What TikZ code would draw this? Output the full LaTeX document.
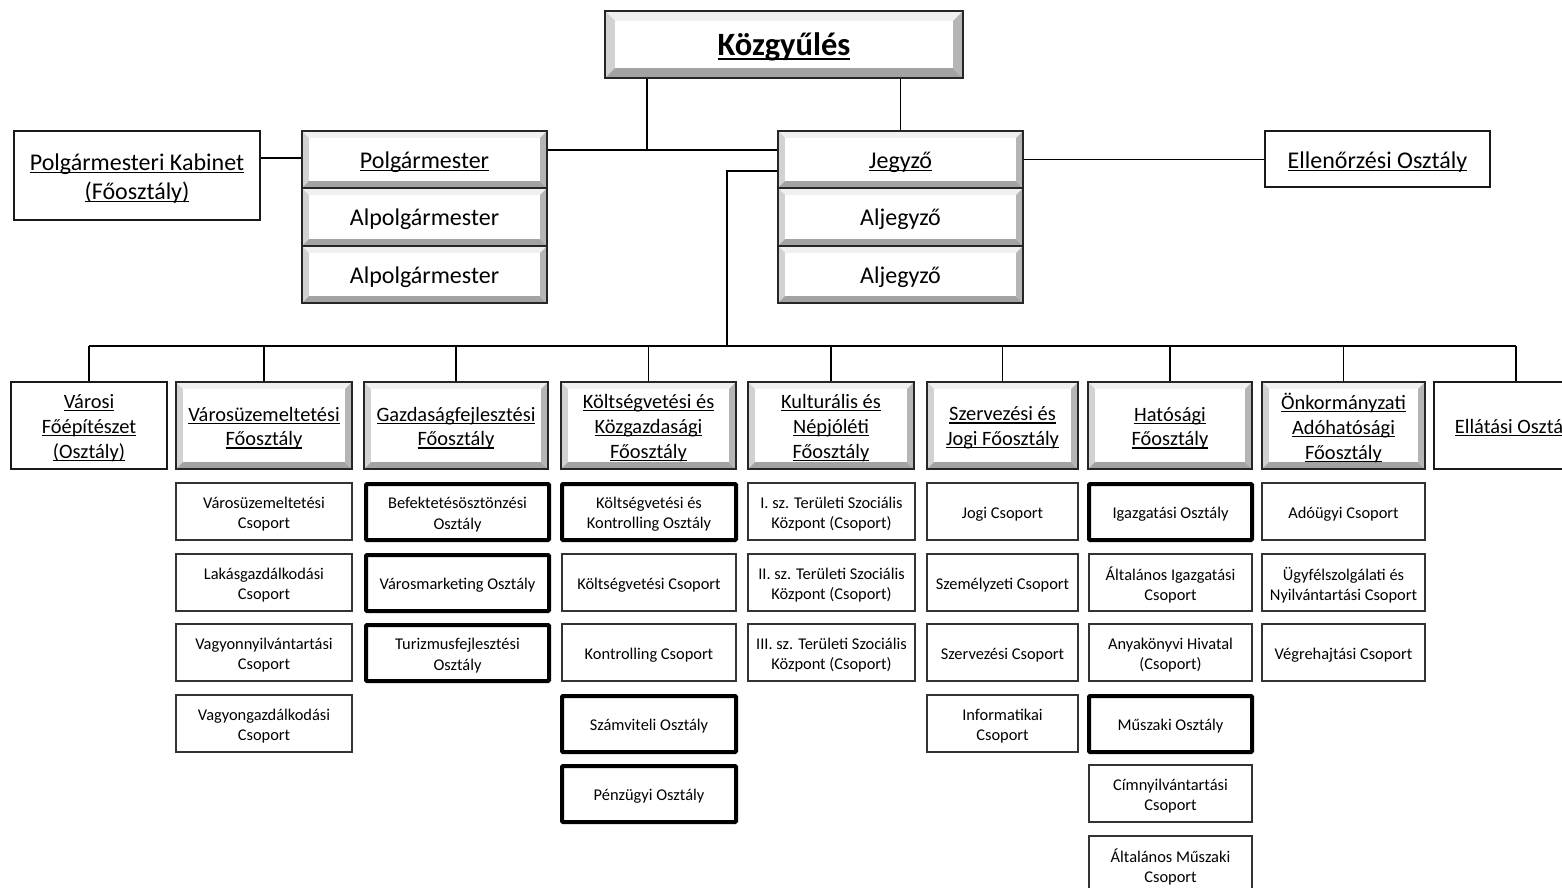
\documentclass[tikz,border=0pt]{standalone}
\usepackage{fontspec}
\setmainfont{Carlito}
\newcommand\ulx[1]{\begingroup\setbox0\hbox{#1}\rlap{\rule[-0.13em]{\wd0}{0.06em}}\box0\endgroup}
\def\bvw{7pt}
% name, box style, font style, x1, y1, x2, y2, text
\newcommand\orgbox[8]{%
  \pgfmathsetmacro\obw{#6-#4}\pgfmathsetmacro\obh{#7-#5}%
  \pgfmathsetmacro\obx{(#4+#6)/2}\pgfmathsetmacro\oby{(#5+#7)/2}%
  \node[#2, minimum width=\obw pt, minimum height=\obh pt] (#1) at (\obx,\oby) {};
  \node[txt, #3] (#1-t) at ([yshift=-2.6pt]#1.center) {#8};}
\tikzset{
  bvw/.store in=\bvw,
  base/.style={inner sep=0pt},
  txt/.style={inner sep=0pt, align=center, text=black},
  bevelbox/.style={base, draw=black!85, line width=1.6pt, fill=white,
    path picture={
      \coordinate (bvA) at (path picture bounding box.south west);
      \coordinate (bvB) at (path picture bounding box.north east);
      \coordinate (bva) at ([xshift=\bvw,yshift=\bvw]path picture bounding box.south west);
      \coordinate (bvb) at ([xshift=-\bvw,yshift=-\bvw]path picture bounding box.north east);
      \fill[gray!12] (bvB -| bvA) -- (bvB) -- (bvb) -- (bvb -| bva) -- cycle;
      \fill[gray!35] (bvB -| bvA) -- (bvA) -- (bva) -- (bvb -| bva) -- cycle;
      \fill[gray!72] (bvA) -- (bvA -| bvB) -- (bva -| bvb) -- (bva) -- cycle;
      \fill[gray!58] (bvB) -- (bvA -| bvB) -- (bva -| bvb) -- (bvb) -- cycle;
      \fill[white] (bva) rectangle (bvb);
    }},
  plainbox/.style={base, draw=black!90, line width=2.6pt, fill=white},
  thinbox/.style={base, draw=black!80, line width=1.1pt, fill=white},
  thickbox/.style={base, draw=black, line width=4pt, fill=white, rounded corners=1pt},
  topfont/.style={font=\fontsize{24}{29}\selectfont},
  hdrfont/.style={font=\fontsize{20.4}{24.8}\selectfont},
  subfont/.style={font=\fontsize{16.4}{20.2}\selectfont},
  bigfont/.style={font=\fontsize{32.5}{36}\selectfont\bfseries},
  conn/.style={draw=black, line width=1.5pt},
}
\begin{document}
\begin{tikzpicture}[x=1pt,y=-1pt]
\useasboundingbox (0,0) rectangle (1562,887);
% top level
\orgbox{kozgy}{bevelbox,bvw=10pt}{bigfont}{605}{11}{963}{78}{\ulx{Közgyűlés}}
\orgbox{kab}{plainbox}{topfont}{14}{131}{260}{220}{\ulx{Polgármesteri Kabinet}\\\ulx{(Főosztály)}}
\orgbox{polg}{bevelbox}{topfont}{302}{131}{547}{188}{\ulx{Polgármester}}
\orgbox{alp1}{bevelbox}{topfont}{302}{188}{547}{246}{Alpolgármester}
\orgbox{alp2}{bevelbox}{topfont}{302}{246}{547}{303}{Alpolgármester}
\orgbox{jeg}{bevelbox}{topfont}{778}{131}{1023}{188}{\ulx{Jegyző}}
\orgbox{alj1}{bevelbox}{topfont}{778}{188}{1023}{246}{Aljegyző}
\orgbox{alj2}{bevelbox}{topfont}{778}{246}{1023}{303}{Aljegyző}
\orgbox{ell}{plainbox}{topfont}{1265}{131}{1490}{187}{\ulx{Ellenőrzési Osztály}}
% headers
\orgbox{h1}{plainbox}{hdrfont}{11}{382}{167}{469}{\ulx{Városi}\\\ulx{Főépítészet}\\\ulx{(Osztály)}}
\orgbox{h2}{bevelbox}{hdrfont}{176}{382}{352}{469}{\ulx{Városüzemeltetési}\\\ulx{Főosztály}}
\orgbox{h3}{bevelbox}{hdrfont}{364}{382}{548}{469}{\ulx{Gazdaságfejlesztési}\\\ulx{Főosztály}}
\orgbox{h4}{bevelbox}{hdrfont}{561}{382}{736}{469}{\ulx{Költségvetési és}\\\ulx{Közgazdasági}\\\ulx{Főosztály}}
\orgbox{h5}{bevelbox}{hdrfont}{748}{382}{914}{469}{\ulx{Kulturális és}\\\ulx{Népjóléti}\\\ulx{Főosztály}}
\orgbox{h6}{bevelbox}{hdrfont}{927}{382}{1078}{469}{\ulx{Szervezési és}\\\ulx{Jogi Főosztály}}
\orgbox{h7}{bevelbox}{hdrfont}{1088}{382}{1252}{469}{\ulx{Hatósági}\\\ulx{Főosztály}}
\orgbox{h8}{bevelbox}{hdrfont}{1262}{382}{1425}{469}{\ulx{Önkormányzati}\\\ulx{Adóhatósági}\\\ulx{Főosztály}}
\orgbox{h9}{plainbox}{hdrfont}{1434}{382}{1598}{469}{\ulx{Ellátási Osztály}}
% column 2
\orgbox{c2a}{thinbox}{subfont}{176}{483}{352}{540}{Városüzemeltetési\\Csoport}
\orgbox{c2b}{thinbox}{subfont}{176}{554}{352}{611}{Lakásgazdálkodási\\Csoport}
\orgbox{c2c}{thinbox}{subfont}{176}{624}{352}{681}{Vagyonnyilvántartási\\Csoport}
\orgbox{c2d}{thinbox}{subfont}{176}{695}{352}{752}{Vagyongazdálkodási\\Csoport}
% column 3
\orgbox{c3a}{thickbox}{subfont}{366}{484}{549}{540}{Befektetésösztönzési\\Osztály}
\orgbox{c3b}{thickbox}{subfont}{366}{555}{549}{611}{Városmarketing Osztály}
\orgbox{c3c}{thickbox}{subfont}{366}{625}{549}{681}{Turizmusfejlesztési\\Osztály}
% column 4
\orgbox{c4a}{thickbox}{subfont}{562}{484}{736}{540}{Költségvetési és\\Kontrolling Osztály}
\orgbox{c4b}{thinbox}{subfont}{562}{554}{736}{611}{Költségvetési Csoport}
\orgbox{c4c}{thinbox}{subfont}{562}{624}{736}{681}{Kontrolling Csoport}
\orgbox{c4d}{thickbox}{subfont}{562}{696}{736}{752}{Számviteli Osztály}
\orgbox{c4e}{thickbox}{subfont}{562}{766}{736}{822}{Pénzügyi Osztály}
% column 5
\orgbox{c5a}{thinbox}{subfont}{748}{483}{915}{540}{I. sz. Területi Szociális\\Központ (Csoport)}
\orgbox{c5b}{thinbox}{subfont}{748}{554}{915}{611}{II. sz. Területi Szociális\\Központ (Csoport)}
\orgbox{c5c}{thinbox}{subfont}{748}{624}{915}{681}{III. sz. Területi Szociális\\Központ (Csoport)}
% column 6
\orgbox{c6a}{thinbox}{subfont}{927}{483}{1078}{540}{Jogi Csoport}
\orgbox{c6b}{thinbox}{subfont}{927}{554}{1078}{611}{Személyzeti Csoport}
\orgbox{c6c}{thinbox}{subfont}{927}{624}{1078}{681}{Szervezési Csoport}
\orgbox{c6d}{thinbox}{subfont}{927}{695}{1078}{752}{Informatikai\\Csoport}
% column 7
\orgbox{c7a}{thickbox}{subfont}{1089}{484}{1252}{540}{Igazgatási Osztály}
\orgbox{c7b}{thinbox}{subfont}{1089}{554}{1252}{611}{Általános Igazgatási\\Csoport}
\orgbox{c7c}{thinbox}{subfont}{1089}{624}{1252}{681}{Anyakönyvi Hivatal\\(Csoport)}
\orgbox{c7d}{thickbox}{subfont}{1089}{696}{1252}{752}{Műszaki Osztály}
\orgbox{c7e}{thinbox}{subfont}{1089}{765}{1252}{822}{Címnyilvántartási\\Csoport}
\orgbox{c7f}{thinbox}{subfont}{1089}{836}{1252}{893}{Általános Műszaki\\Csoport}
% column 8
\orgbox{c8a}{thinbox}{subfont}{1262}{483}{1425}{540}{Adóügyi Csoport}
\orgbox{c8b}{thinbox}{subfont}{1262}{554}{1425}{611}{Ügyfélszolgálati és\\Nyilvántartási Csoport}
\orgbox{c8c}{thinbox}{subfont}{1262}{624}{1425}{681}{Végrehajtási Csoport}
% connectors
\coordinate (k1) at (647,150);
\coordinate (k2) at (0,158);
\coordinate (j1) at (0,171);
\coordinate (bus) at (727,346);
\draw[conn] (k1 |- kozgy.south) -- (k1);
\draw[conn] (polg.east |- k1) -- (jeg.west |- k1);
\draw[conn] (kozgy.south -| jeg.north) -- (jeg.north);
\draw[conn] (kab.east |- k2) -- (polg.west |- k2);
\draw[conn] (jeg.east) -- (jeg.east -| ell.west);
\draw[conn] (jeg.west |- j1) -| (bus);
\draw[conn] (h1.north |- bus) -- (h9.north |- bus);
\foreach \h in {h1,h2,h3,h4,h5,h6,h7,h8,h9}
  \draw[conn] (\h.north |- bus) -- (\h.north);
\end{tikzpicture}
\end{document}
